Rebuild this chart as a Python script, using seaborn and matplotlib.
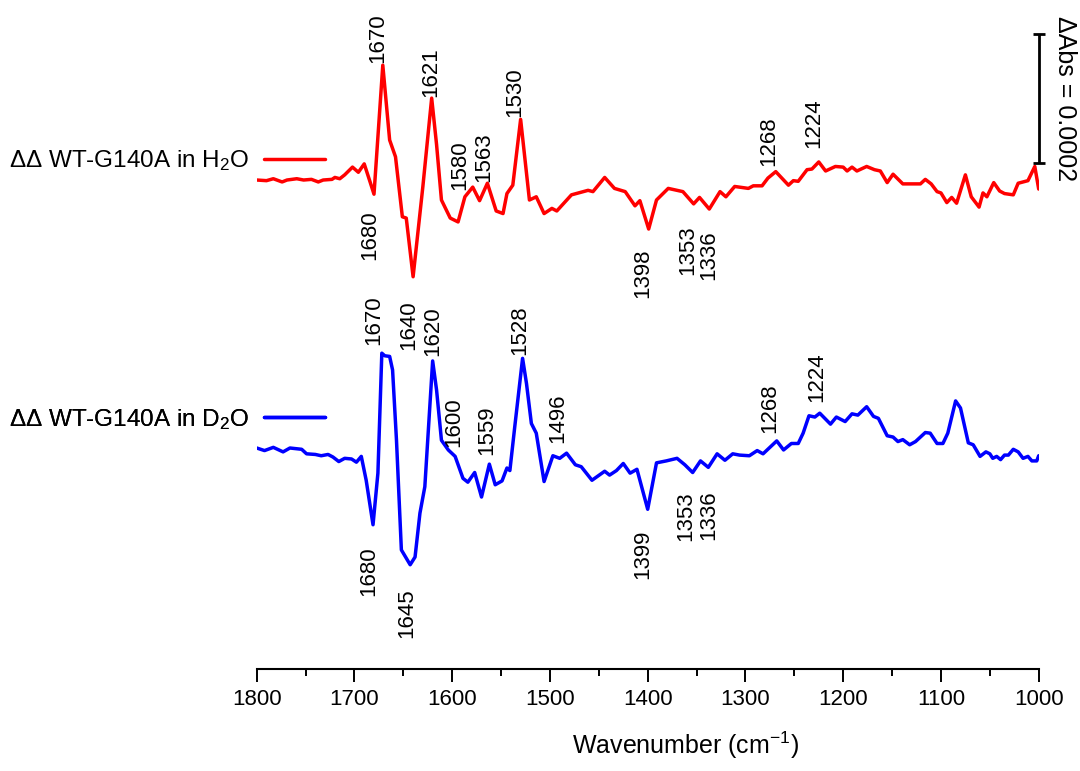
import numpy as np
import pandas as pd
import matplotlib
matplotlib.use("Agg")
import matplotlib.pyplot as plt
import seaborn as sns


# spectra, dAbs in units of 1e-4
red_wn = [
    1800, 1790, 1783, 1774, 1769, 1759, 1752, 1744, 1737, 1732,
    1723, 1720, 1715, 1710, 1702, 1696, 1690, 1684, 1680, 1671,
    1664, 1658, 1651, 1647, 1640, 1630, 1621, 1616, 1611, 1602,
    1594, 1587, 1579, 1572, 1564, 1555, 1548, 1544, 1538, 1530,
    1521, 1514, 1506, 1498, 1493, 1478, 1461, 1456, 1444, 1434,
    1423, 1413, 1408, 1399, 1391, 1379, 1364, 1353, 1347, 1337,
    1326, 1320, 1311, 1297, 1292, 1283, 1277, 1269, 1256, 1251,
    1246, 1237, 1232, 1225, 1218, 1208, 1200, 1196, 1191, 1186,
    1176, 1168, 1162, 1155, 1149, 1139, 1121, 1116, 1110, 1104,
    1100, 1094, 1089, 1084, 1075, 1069, 1061, 1057, 1053, 1046,
    1040, 1035, 1026, 1021, 1011, 1004, 1000,
]
red_dabs = [
    0.00, -0.01, 0.02, -0.03, 0.00, 0.02, 0.00, 0.01, -0.03, 0.00,
    0.01, 0.04, 0.02, 0.08, 0.20, 0.12, 0.25, -0.03, -0.22, 1.78,
    0.62, 0.36, -0.57, -0.59, -1.50, -0.10, 1.27, 0.55, -0.31, -0.59,
    -0.65, -0.26, -0.11, -0.32, -0.05, -0.48, -0.52, -0.21, -0.08, 0.94,
    -0.31, -0.26, -0.52, -0.44, -0.48, -0.23, -0.16, -0.18, 0.04, -0.13,
    -0.18, -0.40, -0.32, -0.76, -0.31, -0.13, -0.18, -0.37, -0.27, -0.45,
    -0.18, -0.26, -0.10, -0.13, -0.09, -0.09, 0.03, 0.13, -0.08, -0.01,
    -0.02, 0.16, 0.17, 0.28, 0.14, 0.21, 0.20, 0.14, 0.20, 0.14,
    0.21, 0.16, 0.14, -0.04, 0.09, -0.06, -0.06, 0.01, -0.06, -0.18,
    -0.20, -0.35, -0.27, -0.36, 0.08, -0.26, -0.42, -0.20, -0.26, -0.04,
    -0.17, -0.21, -0.23, -0.05, -0.01, 0.21, -0.14,
]

blue_wn = [
    1800, 1792, 1783, 1773, 1766, 1754, 1749, 1740, 1734, 1727,
    1722, 1716, 1710, 1703, 1698, 1693, 1688, 1681, 1676, 1672,
    1669, 1664, 1661, 1657, 1652, 1643, 1638, 1633, 1628, 1620,
    1616, 1611, 1604, 1597, 1589, 1584, 1577, 1570, 1562, 1556,
    1549, 1544, 1541, 1536, 1528, 1524, 1519, 1514, 1506, 1497,
    1490, 1483, 1474, 1468, 1457, 1444, 1439, 1432, 1425, 1418,
    1411, 1400, 1391, 1381, 1370, 1362, 1354, 1346, 1338, 1329,
    1321, 1313, 1306, 1296, 1288, 1282, 1268, 1261, 1253, 1246,
    1241, 1235, 1229, 1224, 1213, 1207, 1198, 1191, 1185, 1176,
    1169, 1164, 1155, 1149, 1144, 1139, 1132, 1126, 1116, 1111,
    1104, 1098, 1093, 1085, 1080, 1072, 1067, 1060, 1054, 1050,
    1047, 1043, 1039, 1035, 1031, 1026, 1021, 1016, 1011, 1007,
    1002, 1000,
]
blue_dabs = [
    0.00, -0.04, 0.01, -0.06, 0.00, -0.02, -0.09, -0.10, -0.12, -0.10,
    -0.14, -0.21, -0.16, -0.17, -0.22, -0.13, -0.50, -1.19, -0.39, 1.47,
    1.43, 1.42, 1.21, 0.12, -1.58, -1.81, -1.69, -1.01, -0.60, 1.35,
    0.90, 0.12, -0.03, -0.13, -0.47, -0.53, -0.38, -0.76, -0.25, -0.57,
    -0.51, -0.31, -0.35, 0.33, 1.39, 1.00, 0.38, 0.23, -0.52, -0.12,
    -0.16, -0.08, -0.26, -0.29, -0.50, -0.36, -0.42, -0.35, -0.24, -0.39,
    -0.33, -0.95, -0.23, -0.20, -0.16, -0.26, -0.38, -0.20, -0.30, -0.09,
    -0.19, -0.09, -0.11, -0.12, -0.04, -0.09, 0.11, -0.03, 0.07, 0.07,
    0.23, 0.50, 0.48, 0.54, 0.37, 0.48, 0.41, 0.53, 0.51, 0.64,
    0.49, 0.46, 0.19, 0.17, 0.10, 0.13, 0.05, 0.10, 0.24, 0.23,
    0.07, 0.07, 0.23, 0.73, 0.62, 0.08, 0.05, -0.13, -0.06, -0.09,
    -0.16, -0.13, -0.18, -0.11, -0.11, -0.02, -0.06, -0.16, -0.13, -0.20,
    -0.20, -0.12,
]

# peak labels: text, wavenumber, level (1e-4, relative to own trace), above/below
red_labels      = ["1670", "1621", "1580", "1563", "1530", "1268", "1224", "1680", "1398", "1353", "1336"]
red_label_wn    = [1676, 1622, 1592, 1568, 1536, 1276, 1230, 1684, 1405, 1359, 1338]
red_label_y     = [1.81, 1.29, -0.16, -0.03, 0.98, 0.21, 0.49, -0.47, -1.06, -0.70, -0.78]
red_label_above = [True] * 7 + [False] * 4

blue_labels      = ["1670", "1640", "1620", "1528", "1600", "1559", "1496", "1268", "1224",
                    "1680", "1645", "1399", "1353", "1336"]
blue_label_wn    = [1680, 1644, 1620, 1531, 1598, 1565, 1492, 1275, 1227, 1685, 1646, 1405, 1361, 1338]
blue_label_y     = [1.60, 1.52, 1.42, 1.44, 0.02, -0.11, 0.07, 0.23, 0.72, -1.53, -2.18, -1.27, -0.68, -0.65]
blue_label_above = [True] * 9 + [False] * 5

series_names = ["ΔΔ WT-G140A in H$_2$O", "ΔΔ WT-G140A in D$_2$O"]
SCALE = 1e-4
RED_OFFSET = 0.0
BLUE_OFFSET = -4.155
SCALEBAR = 2.0          # 0.0002 in 1e-4 units


sns.set_theme(style="white")
plt.rcParams["font.family"] = ["Liberation Sans", "DejaVu Sans"]
plt.rcParams["mathtext.fontset"] = "custom"
plt.rcParams["mathtext.rm"] = "Liberation Sans"
plt.rcParams["mathtext.it"] = "Liberation Sans:italic"
plt.rcParams["text.color"] = "black"
plt.rcParams["axes.labelcolor"] = "black"
plt.rcParams["xtick.color"] = "black"

fig = plt.figure(figsize=(10.8, 7.71), dpi=100)
ax = fig.add_axes([256.7 / 1080, 101.7 / 771, 782 / 1080, 669.3 / 771])

red_df  = pd.DataFrame({"wn": red_wn,  "dabs": (np.array(red_dabs) + RED_OFFSET) * SCALE})
blue_df = pd.DataFrame({"wn": blue_wn, "dabs": (np.array(blue_dabs) + BLUE_OFFSET) * SCALE})

sns.lineplot(data=red_df, x="wn", y="dabs", color="#ff0000", lw=2.5,
             sort=False, estimator=None, ax=ax)
sns.lineplot(data=blue_df, x="wn", y="dabs", color="#0000ff", lw=2.5,
             sort=False, estimator=None, ax=ax)

ax.set_xlim(1800, 1000)
ax.set_ylim(-7.586 * SCALE, 2.791 * SCALE)

# peak labels
for labels, wns, ys, above, off in [
    (red_labels, red_label_wn, red_label_y, red_label_above, RED_OFFSET),
    (blue_labels, blue_label_wn, blue_label_y, blue_label_above, BLUE_OFFSET),
]:
    for txt, w, y, up in zip(labels, wns, ys, above):
        ax.text(w, (y + off) * SCALE, txt, rotation=90, ha="center",
                va="bottom" if up else "top", fontsize=16, color="black")

# scale bar
eb = ax.errorbar([1000], [1.26 * SCALE], yerr=[SCALEBAR / 2 * SCALE], fmt="none",
                 ecolor="black", elinewidth=2, capsize=4, capthick=2)
for art in eb.lines[1] + eb.lines[2]:
    art.set_clip_on(False)
ax.text(973, 1.26 * SCALE, "ΔAbs = 0.0002", rotation=270, ha="center", va="center",
        fontsize=18, clip_on=False)

# legends: label on the left, line on the right
lines = ax.get_lines()
for line, name, ypos in [(lines[0], series_names[0], 0.30), (lines[1], series_names[1], -3.71)]:
    leg = ax.legend([line], [name], loc="center right", bbox_to_anchor=(1730, ypos * SCALE),
                    bbox_transform=ax.transData, markerfirst=False, frameon=False,
                    handlelength=2.5, handletextpad=0.62, borderpad=0, borderaxespad=0,
                    fontsize=17.5)
    ax.add_artist(leg)

ax.set_xticks(np.arange(1800, 999, -100))
ax.set_xticks(np.arange(1750, 1000, -100), minor=True)
ax.set_yticks([])
ax.set_ylabel("")
ax.set_xlabel("Wavenumber (cm$^{-1}$)", fontsize=18, labelpad=16)
ax.xaxis.set_label_coords(0.548, -0.09)
ax.tick_params(axis="x", which="major", direction="out", length=9.5, width=1.4,
               labelsize=16, pad=5, bottom=True, color="black")
ax.tick_params(axis="x", which="minor", direction="out", length=5, width=1.4, bottom=True,
               color="black")
for side in ["top", "left", "right"]:
    ax.spines[side].set_visible(False)
ax.spines["bottom"].set_linewidth(1.5)
ax.spines["bottom"].set_color("black")
ax.patch.set_alpha(0)

fig.savefig("out.png", dpi=100)
